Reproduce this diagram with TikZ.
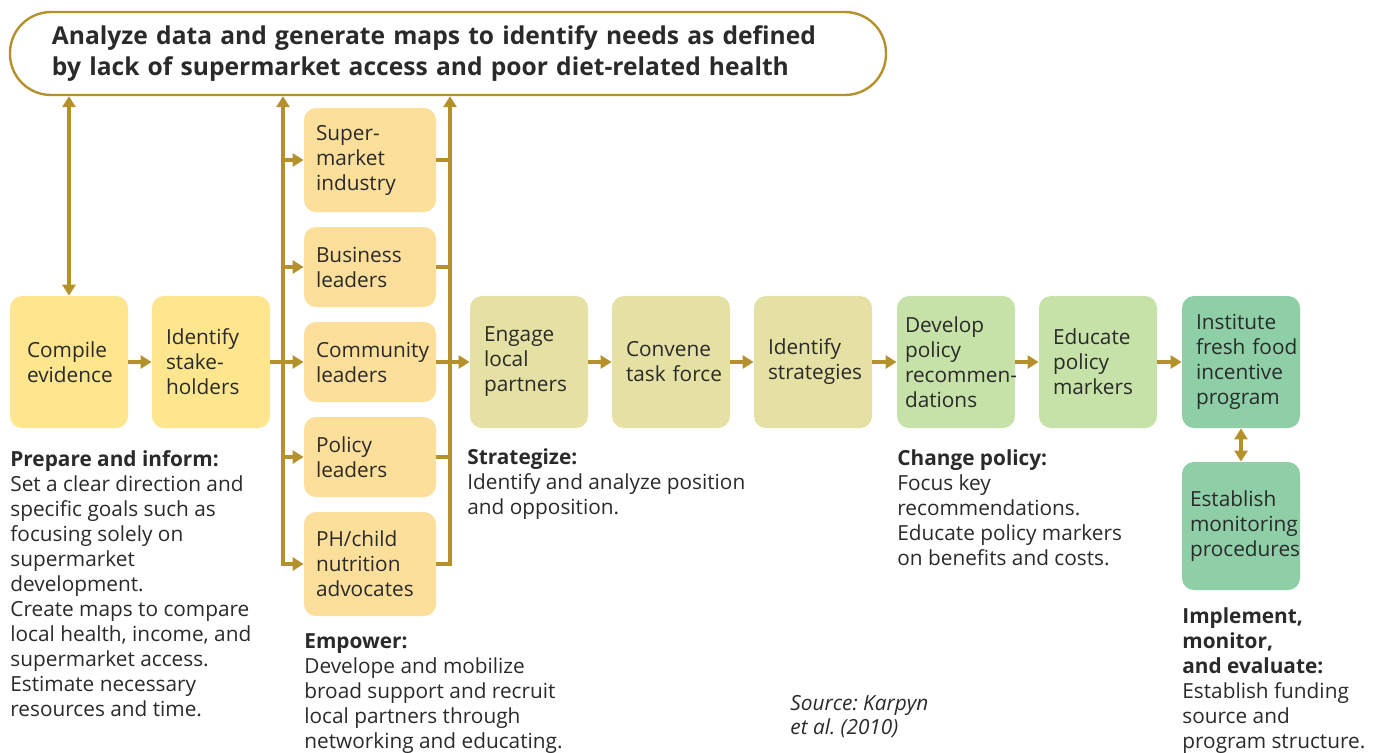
\documentclass[tikz,border=0pt]{standalone}
\usepackage{fontspec}
\setmainfont{Open Sans}
\usepackage{tikz}
\usetikzlibrary{arrows.meta}
\frenchspacing
\definecolor{linkgold}{HTML}{B5912C}
\definecolor{inktext}{HTML}{2A2A2A}
\definecolor{prepfill}{HTML}{FDE68E}
\definecolor{empowfill}{HTML}{FDDF9C}
\definecolor{stratfill}{HTML}{E5E0A3}
\definecolor{polfill}{HTML}{C6E2A8}
\definecolor{implfill}{HTML}{8ECFA7}
\tikzstyle{every node}=[text=inktext, font=\fontsize{10.4}{12.5}\selectfont]
\tikzstyle{box}=[rectangle, rounded corners=6pt, minimum width=59pt,
                 minimum height=66pt, text width=45pt, inner xsep=7pt,
                 inner ysep=0pt, align=left]
\tikzstyle{player}=[rectangle, rounded corners=6pt, fill=empowfill,
                    text width=54pt, inner xsep=6pt, align=left]
\tikzstyle{note}=[anchor=north west, align=left, inner sep=0pt]
\tikzstyle{link}=[draw=linkgold, line width=1.6pt]

\begin{document}
\begin{tikzpicture}[x=0.5pt, y=-0.5pt, >={Triangle[length=5.5pt,width=6.5pt]}]
  \useasboundingbox (0,0) rectangle (1373,752);
  \node[draw=linkgold, line width=1.2pt, rounded corners=20.5pt,
        minimum width=438pt, minimum height=41.5pt, text width=396pt,
        inner xsep=21pt, align=left, font=\fontsize{12.3}{15.5}\selectfont\bfseries]
	(goal) at (448,53.5)
	{Analyze data and generate maps to identify needs as defined\\
	 by lack of supermarket access and poor diet-related health};

  % main row
  \node[box, fill=prepfill, text width=42pt, inner xsep=8.5pt] (compile) at (69,362)
	{Compile\\evidence};
  \node[box, fill=prepfill] (ident) at (211,362) {Identify\\stake-\\holders};
  \node[box, fill=stratfill] (engage) at (529,362) {Engage\\local\\partners};
  \node[box, fill=stratfill] (convene) at (671,362) {Convene\\task~force};
  \node[box, fill=stratfill] (strat) at (813,362) {Identify\\strategies};
  \node[box, fill=polfill, text width=51pt, inner xsep=4pt] (develop) at (956,362)
	{Develop\\policy\\\mbox{recommen-}\\dations};
  \node[box, fill=polfill] (educate) at (1098,362) {Educate\\policy\\markers};
  \node[box, fill=implfill] (institute) at (1241,362)
	{Institute\\fresh~food\\incentive\\program};
  \node[box, fill=implfill, minimum height=64pt, text width=51pt, inner xsep=4pt]
	(establish) at (1241,526) {Establish\\monitoring\\procedures};

  % stakeholders
  \node[player, minimum height=52pt] (super) at (370,160) {Super-\\market\\industry};
  \node[player, minimum height=40pt] (business) at (370,267) {Business\\leaders};
  \node[player, minimum height=40pt] (community) at (370,362) {Community\\leaders};
  \node[player, minimum height=40pt] (policy) at (370,457) {Policy\\leaders};
  \node[player, minimum height=52pt] (child) at (370,564) {PH/child\\nutrition\\advocates};

  \coordinate (gather) at (283,564);
  \coordinate (merge) at (450,564);

  % connectors
  \draw[link, <->] (compile.north) -- (compile.north |- goal.south);
  \draw[link, ->] (compile) -- (ident);
  \draw[link, <->] (child.west) -- (gather) -- (gather |- goal.south);
  \draw[link, ->] (child.east) -- (merge) -- (merge |- goal.south);
  \foreach \who in {super,business,policy} {
    \draw[link, ->] (gather |- \who) -- (\who.west);
    \draw[link] (\who.east) -- (merge |- \who);
  }
  \draw[link, ->] (ident.east) -- (community.west);
  \draw[link, ->] (community.east) -- (engage.west);
  \draw[link, ->] (engage) -- (convene);
  \draw[link, ->] (convene) -- (strat);
  \draw[link, ->] (strat) -- (develop);
  \draw[link, ->] (develop) -- (educate);
  \draw[link, ->] (educate) -- (institute);
  \draw[link, <->] (institute) -- (establish);

  % stage notes
  \node[note] (prepnote) at (10,450)
	{\textbf{Prepare and inform:}\\Set a clear direction and\\specific goals such as\\
	 focusing solely on\\supermarket\\development.\\Create maps to compare\\
	 local health, income, and\\supermarket access.\\Estimate necessary\\
	 resources and time.};
  \node[note] (empnote) at (304,633)
	{\textbf{Empower:}\\Develope and mobilize\\broad support and recruit\\
	 local partners through\\networking and educating.};
  \node[note] (stratnote) at (467,448)
	{\textbf{Strategize:}\\Identify and analyze position\\and opposition.};
  \node[note] (polnote) at (897,449)
	{\textbf{Change policy:}\\Focus key\\recommendations.\\
	 Educate policy markers\\on benefits and costs.};
  \node[note] (implnote) at (1182,607)
	{\textbf{Implement,}\\\textbf{monitor,}\\\textbf{and evaluate:}\\
	 Establish funding\\source and\\program structure.};
  \node[note, font=\fontsize{10.4}{12}\selectfont\itshape] (source) at (790,695)
	{Source: Karpyn\\et al. (2010)};
\end{tikzpicture}
\end{document}
